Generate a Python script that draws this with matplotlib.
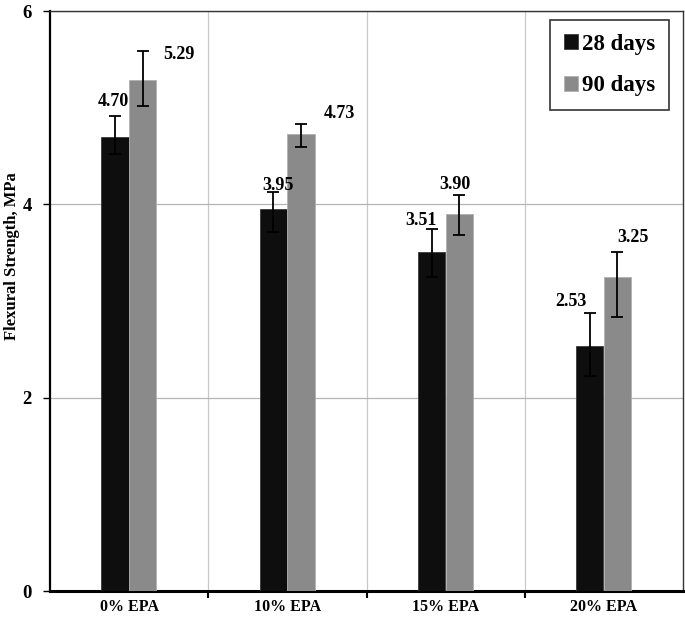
import matplotlib
matplotlib.use("Agg")
import matplotlib.pyplot as plt
import numpy as np

categories = ["0% EPA", "10% EPA", "15% EPA", "20% EPA"]
days28 = [4.70, 3.95, 3.51, 2.53]
days90 = [5.29, 4.73, 3.90, 3.25]
err28_lo = [0.18, 0.24, 0.26, 0.31]
err28_hi = [0.21, 0.18, 0.23, 0.35]
err90_lo = [0.27, 0.14, 0.22, 0.42]
err90_hi = [0.30, 0.10, 0.20, 0.26]
series_names = ["28 days", "90 days"]
yticks = [0, 2, 4, 6]

plt.rcParams['font.family'] = ['Liberation Serif', 'DejaVu Serif']
plt.rcParams['font.weight'] = 'bold'

fig = plt.figure(figsize=(6.85, 6.19), dpi=100)
ax = fig.add_axes([50/685, 1-591/619, (683-50)/685, (591-11)/619])

x = np.arange(len(categories))
w = 0.172
x28 = x - w/2 - 0.003
x90 = x + w/2
ax.bar(x28, days28, w, color='#0e0e0e', edgecolor='#3a3a3a', linewidth=0.6,
       label=series_names[0], zorder=3)
ax.bar(x90, days90, w, color='#8a8a8a', edgecolor='#b0b0b0', linewidth=0.6,
       label=series_names[1], zorder=3)
ax.errorbar(x28, days28, yerr=[err28_lo, err28_hi], fmt='none', ecolor='black', elinewidth=1.3,
            capsize=4, capthick=1.3, zorder=4)
ax.errorbar(x90, days90, yerr=[err90_lo, err90_hi], fmt='none', ecolor='black', elinewidth=1.3,
            capsize=4, capthick=1.3, zorder=4)

# value labels (offsets in pixels from error-bar top)
off28 = [(-2, 6), (5, -2), (-11, 0), (-19, 3)]
off90 = [(36, -4), (38, 11), (-4, 10), (16, 14)]
for i in range(len(categories)):
    ax.annotate(f"{days28[i]:.2f}", xy=(x28[i], days28[i] + err28_hi[i]),
                xytext=off28[i], textcoords='offset pixels', ha='center', va='bottom',
                fontsize=13, fontweight='bold', zorder=5)
    ax.annotate(f"{days90[i]:.2f}", xy=(x90[i], days90[i] + err90_hi[i]),
                xytext=off90[i], textcoords='offset pixels', ha='center', va='center',
                fontsize=13, fontweight='bold', zorder=5)

ax.set_xlim(-0.5, 3.5)
ax.set_ylim(0, 6)
ax.set_yticks(yticks)
ax.set_yticklabels([str(t) for t in yticks], fontsize=13.5, fontweight='bold')
ax.set_xticks(x)
ax.set_xticklabels(categories, fontsize=11.5, fontweight='bold')
ax.tick_params(axis='x', which='major', length=0, pad=6)
ax.set_xticks([0.5, 1.5, 2.5], minor=True)
ax.tick_params(axis='x', which='minor', length=5, width=1.5, direction='out')
ax.tick_params(axis='y', length=5, width=1, direction='out', pad=8)

ax.grid(True, axis='y', color='#b5b5b5', linewidth=0.9, zorder=0)
ax.grid(True, axis='x', which='minor', color='#c8c8c8', linewidth=0.9, zorder=0)
ax.set_axisbelow(True)

ax.spines['left'].set_linewidth(1.6)
ax.spines['bottom'].set_linewidth(2.2)
ax.spines['top'].set_linewidth(1.0)
ax.spines['right'].set_linewidth(1.0)
ax.spines['top'].set_color('#333333')
ax.spines['right'].set_color('#333333')

ax.set_ylabel("Flexural Strength, MPa", fontsize=12, fontweight='bold')
ax.yaxis.set_label_coords((20 - 50) / 633, (591 - 256) / 580)

leg = ax.legend(loc='upper right', bbox_to_anchor=(1 - 14/633, 1 - 9/580),
                frameon=True, fancybox=False, edgecolor='black',
                handlelength=0.6, handleheight=0.6, handletextpad=0.2, labelspacing=0.9,
                borderpad=0.6, borderaxespad=0, prop={'weight': 'bold', 'size': 16.5})
leg.get_frame().set_linewidth(1.2)

fig.savefig("out.png", dpi=100)
